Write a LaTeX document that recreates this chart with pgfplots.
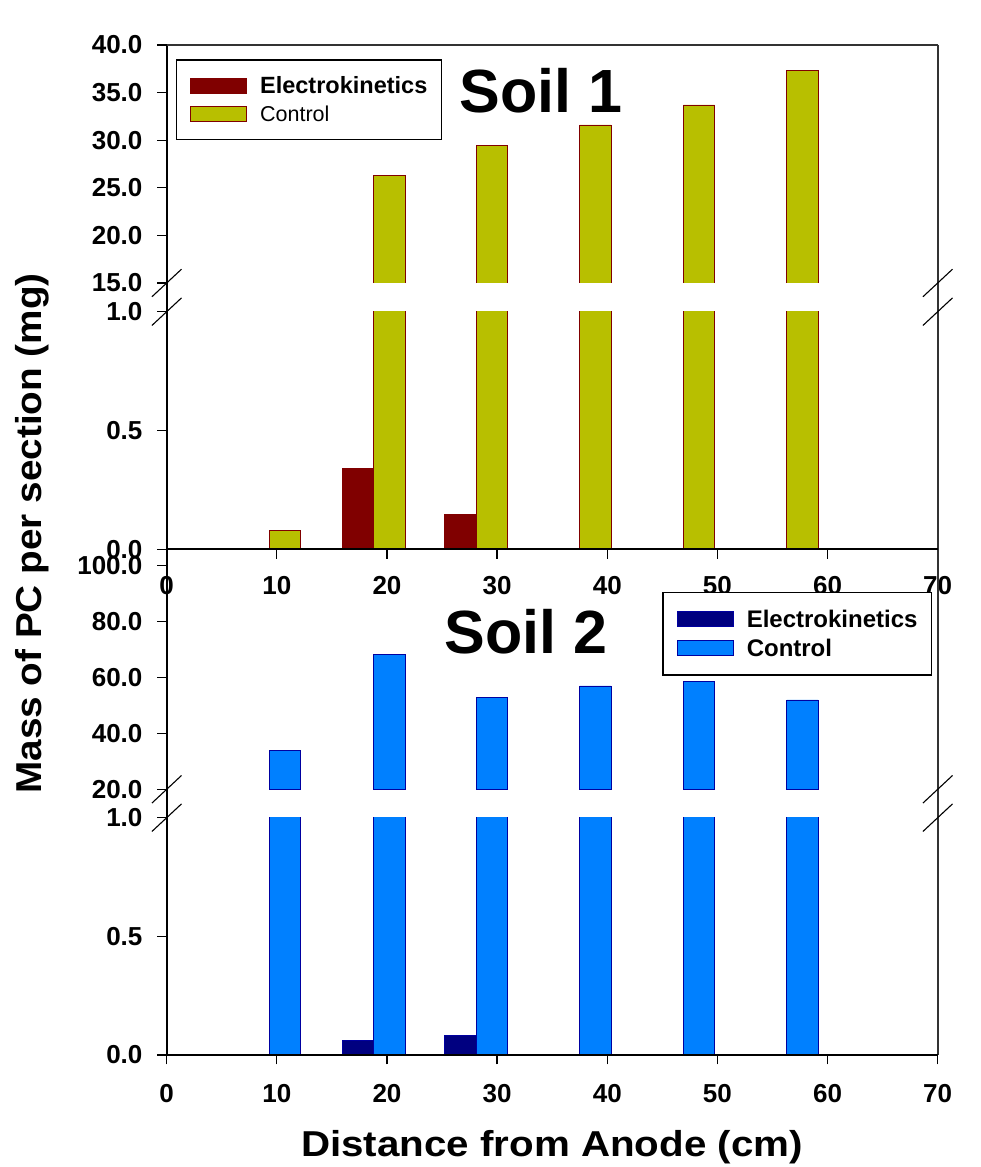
\documentclass[border=0pt]{standalone}
\usepackage{fontspec}
\setmainfont{Liberation Sans}
\usepackage{graphicx}
\usepackage{pgfplots}
\pgfplotsset{compat=1.18}
\definecolor{ekone}{RGB}{128,0,0}
\definecolor{ctrlone}{RGB}{184,191,0}
\definecolor{edgeone}{RGB}{128,0,0}
\definecolor{ektwo}{RGB}{0,0,128}
\definecolor{ctrltwo}{RGB}{0,128,255}
\definecolor{edgetwo}{RGB}{0,0,160}
\pgfplotsset{
  panel/.style={scale only axis, width=771pt, xmin=0, xmax=70, anchor=south west,
    axis x line*=bottom, axis y line*=left,
    axis line style={draw=none}, tick align=outside, major tick length=9.5pt,
    every tick/.style={black, line width=1.3pt},
    ticklabel style={font=\fontsize{26}{30}\selectfont\bfseries, inner sep=0pt},
    /pgf/number format/assume math mode=true,
    yticklabel style={/pgf/number format/fixed, /pgf/number format/fixed zerofill,
      /pgf/number format/precision=1, anchor=east, xshift=-14.6pt},
    xticklabel style={anchor=north},
    legend cell align=left,
    legend image code/.code={\draw[##1,line width=0.8pt] (0pt,-7.5pt) rectangle (56pt,7.5pt);},
  },
  bone/.style={ybar, bar width=2.85, bar shift=0pt, draw=edgeone, line width=0.8pt},
  btwo/.style={ybar, bar width=2.85, bar shift=0pt, draw=edgetwo, line width=0.8pt},
}
\begin{document}
\begin{tikzpicture}
\useasboundingbox (0,0) rectangle (980pt,1167pt);
% Soil 1 upper
\begin{axis}[panel, at={(166.7pt,884pt)}, height=238pt, ymin=15, ymax=40,
  ytick={15,20,25,30,35,40}, xtick=\empty,
  legend style={at={(axis description cs:0.01167,0.94)}, anchor=north west,
    draw=black, line width=1.3pt, fill=white, inner xsep=14pt, inner ysep=17pt,
    row sep=10pt, column sep=13pt, font=\fontsize{23.5}{28}\selectfont,
    nodes={inner sep=0pt}}]
\addlegendimage{bone, fill=ekone}
\addlegendentry{\bfseries Electrokinetics}
\addplot[bone, fill=ctrlone] coordinates {(20.225,26.3) (29.525,29.4) (38.925,31.6) (48.325,33.7) (57.725,37.3)};
\addlegendentry{\fontsize{21.5}{26}\selectfont Control}
\end{axis}
% Soil 1 lower
\begin{axis}[panel, at={(166.7pt,617.7pt)}, height=237.6pt, ymin=0, ymax=1,
  ytick={0,0.5,1}, xtick={0,10,...,70}, xticklabel style={yshift=-16.9pt}]
\addplot[bone, fill=ekone] coordinates {(17.375,0.34) (26.675,0.147)};
\addplot[bone, fill=ctrlone] coordinates {(10.725,0.08) (20.225,26.3) (29.525,29.4) (38.925,31.6) (48.325,33.7) (57.725,37.3)};
\end{axis}
% Soil 2 upper
\begin{axis}[panel, at={(166.7pt,377.7pt)}, height=240pt, ymin=20, ymax=105.714,
  ytick={20,40,60,80,100}, xtick=\empty,
  legend style={at={(axis description cs:0.6428,0.8233)}, anchor=north west,
    draw=black, line width=1.3pt, fill=white, inner xsep=14pt, inner ysep=17.5pt,
    row sep=10pt, column sep=13pt, font=\fontsize{24}{28}\selectfont\bfseries,
    nodes={inner sep=0pt}}]
\addlegendimage{btwo, fill=ektwo}
\addlegendentry{Electrokinetics}
\addplot[btwo, fill=ctrltwo] coordinates {(10.725,33.8) (20.225,68.2) (29.525,52.7) (38.925,56.9) (48.325,58.6) (57.725,51.9)};
\addlegendentry{Control}
\end{axis}
% Soil 2 lower
\begin{axis}[panel, at={(166.7pt,112pt)}, height=237.3pt, ymin=0, ymax=1,
  ytick={0,0.5,1}, xtick={0,10,...,70}, xticklabel style={yshift=-19.5pt}]
\addplot[btwo, fill=ektwo] coordinates {(17.375,0.060) (26.675,0.084)};
\addplot[btwo, fill=ctrltwo] coordinates {(10.725,33.8) (20.225,68.2) (29.525,52.7) (38.925,56.9) (48.325,58.6) (57.725,51.9)};
\end{axis}
% frame
\draw[line width=1.6pt] (166.7pt,1122pt) -- (166.7pt,112pt);
\draw[line width=1.6pt, black!80] (937.7pt,1122pt) -- (937.7pt,112pt);
\draw[line width=1.3pt, black!80] (166.7pt,1122pt) -- (937.7pt,1122pt);
\draw[line width=2pt] (166.7pt,617.7pt) -- (937.7pt,617.7pt);
\draw[line width=2pt] (166.7pt,112pt) -- (937.7pt,112pt);
% breaks
\draw[line width=1.1pt] (151.9pt,870.2pt) -- (181.5pt,897.8pt);
\draw[line width=1.1pt] (151.9pt,841.5pt) -- (181.5pt,869.1pt);
\draw[line width=1.1pt] (151.9pt,363.9pt) -- (181.5pt,391.5pt);
\draw[line width=1.1pt] (151.9pt,335.5pt) -- (181.5pt,363.1pt);
\draw[line width=1.1pt] (922.9pt,870.2pt) -- (952.5pt,897.8pt);
\draw[line width=1.1pt] (922.9pt,841.5pt) -- (952.5pt,869.1pt);
\draw[line width=1.1pt] (922.9pt,363.9pt) -- (952.5pt,391.5pt);
\draw[line width=1.1pt] (922.9pt,335.5pt) -- (952.5pt,363.1pt);
% titles and labels
\node[anchor=base west, inner sep=0pt, font=\fontsize{61}{70}\selectfont\bfseries] at (459.3pt,1054pt) {Soil 1};
\node[anchor=base west, inner sep=0pt, font=\fontsize{61}{70}\selectfont\bfseries] at (444.3pt,513pt) {Soil 2};
\node[rotate=90, anchor=base, inner sep=0pt, font=\fontsize{36}{40}\selectfont\bfseries] at (41.7pt,633.5pt) {\scalebox{1.075}[1]{Mass of PC per section (mg)}};
\node[anchor=base, inner sep=0pt, font=\fontsize{36}{40}\selectfont\bfseries] at (552pt,10.3pt) {\scalebox{1.12}[1]{Distance from Anode (cm)}};
\end{tikzpicture}
\end{document}
